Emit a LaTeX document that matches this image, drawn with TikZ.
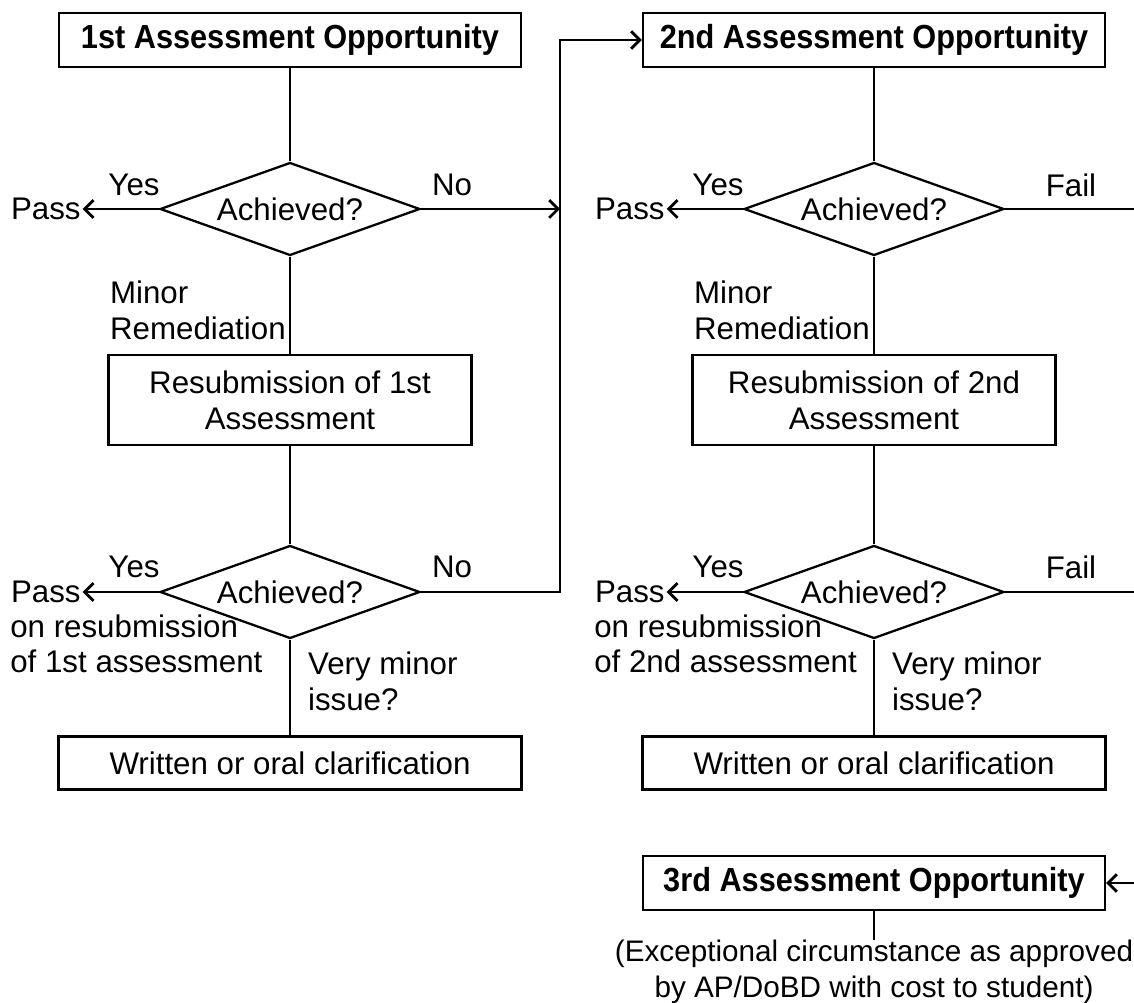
\documentclass[tikz,border=0pt]{standalone}
\usepackage{fontspec}
\setmainfont{Liberation Sans}
\newfontfamily\headfont[FakeStretch=0.92]{Liberation Sans}
\usetikzlibrary{shapes.geometric,arrows.meta}

\begin{document}
\begin{tikzpicture}[x=0.02cm, y=-0.02cm,
    every node/.style={font=\fontsize{17.8}{20.4}\selectfont, inner sep=1pt},
    title/.style={draw, line width=1.3pt, font=\headfont\fontsize{19}{20.4}\selectfont\bfseries,
        minimum width=9.24cm, minimum height=1.08cm},
    decision/.style={draw, diamond, shape aspect=2.8, line width=1.3pt, minimum width=5.2cm,
        minimum height=1.86cm, inner sep=0pt},
    resub/.style={draw, line width=1.3pt, align=center, minimum width=7.26cm, minimum height=1.8cm},
    clarify/.style={draw, line width=1.3pt, minimum width=9.26cm, minimum height=1.06cm},
    flow/.style={line width=1.3pt},
    arr/.style={flow, -{Straight Barb[length=5pt, width=10pt, line width=1.6pt]}}
]
    \useasboundingbox (0,0) rectangle (1134,1003);

    % Rails for the loop back and the right hand edge
    \coordinate (rail) at (560,0);
    \coordinate (edge) at (1134,0);

    % First opportunity column
    \node[title] (first) at (290,40) {1st Assessment Opportunity};
    \node[decision] (ach1) at (290,209) {Achieved?};
    \node[resub] (resub1) at (290,400) {Resubmission of 1st\\Assessment};
    \node[decision] (ach2) at (290,592) {Achieved?};
    \node[clarify] (clar1) at (290,763) {Written or oral clarification};

    % Second opportunity column
    \node[title] (second) at (874,40) {2nd Assessment Opportunity};
    \node[decision] (ach3) at (874,209) {Achieved?};
    \node[resub] (resub2) at (874,400) {Resubmission of 2nd\\Assessment};
    \node[decision] (ach4) at (874,592) {Achieved?};
    \node[clarify] (clar2) at (874,763) {Written or oral clarification};

    % Third opportunity
    \node[title] (third) at (874,883) {3rd Assessment Opportunity};
    \node[align=center, anchor=north, inner sep=0pt, font=\fontsize{16.9}{20.4}\selectfont] (except)
        at (874,940) {(Exceptional circumstance as approved\\by AP/DoBD with cost to student)};

    % Outcomes on the left of each decision
    \node[anchor=west] (pass1) at (9,209) {Pass};
    \node[anchor=west] (pass2) at (9,592) {Pass};
    \node[anchor=north west, align=left, inner sep=0pt] (resubnote1) at (10,614)
        {on resubmission\\of 1st assessment};
    \node[anchor=west] (pass3) at (593,209) {Pass};
    \node[anchor=west] (pass4) at (593,592) {Pass};
    \node[anchor=north west, align=left, inner sep=0pt] (resubnote2) at (594,614)
        {on resubmission\\of 2nd assessment};

    % Branch labels
    \node (yes1) at (134,185) {Yes};
    \node (no1) at (452,185) {No};
    \node (yes2) at (134,567) {Yes};
    \node (no2) at (452,567) {No};
    \node (yes3) at (718,185) {Yes};
    \node (fail1) at (1071,185) {Fail};
    \node (yes4) at (718,567) {Yes};
    \node (fail2) at (1071,567) {Fail};
    \node[anchor=west, align=left] (minor1) at (108,310) {Minor\\Remediation};
    \node[anchor=west, align=left] (minor2) at (692,310) {Minor\\Remediation};
    \node[anchor=west, align=left] (veryminor1) at (306,681) {Very minor\\issue?};
    \node[anchor=west, align=left] (veryminor2) at (890,681) {Very minor\\issue?};

    % Vertical flow
    \draw[flow] (first) -- (ach1);
    \draw[flow] (ach1) -- (resub1);
    \draw[flow] (resub1) -- (ach2);
    \draw[flow] (ach2) -- (clar1);
    \draw[flow] (second) -- (ach3);
    \draw[flow] (ach3) -- (resub2);
    \draw[flow] (resub2) -- (ach4);
    \draw[flow] (ach4) -- (clar2);
    \draw[flow] (third) -- (except);

    % Pass arrows
    \draw[arr] (ach1.west) -- (pass1.east);
    \draw[arr] (ach2.west) -- (pass2.east);
    \draw[arr] (ach3.west) -- (pass3.east);
    \draw[arr] (ach4.west) -- (pass4.east);

    % Failed attempts go on to the next opportunity
    \draw[arr] (ach1.east) -- (ach1.east -| rail);
    \draw[arr] (ach2.east) -- (ach2.east -| rail) |- (second.west);
    \draw[flow] (ach3.east) -- (ach3.east -| edge);
    \draw[flow] (ach4.east) -- (ach4.east -| edge);
    \draw[arr] (third.east -| edge) -- (third.east);

\end{tikzpicture}
\end{document}
